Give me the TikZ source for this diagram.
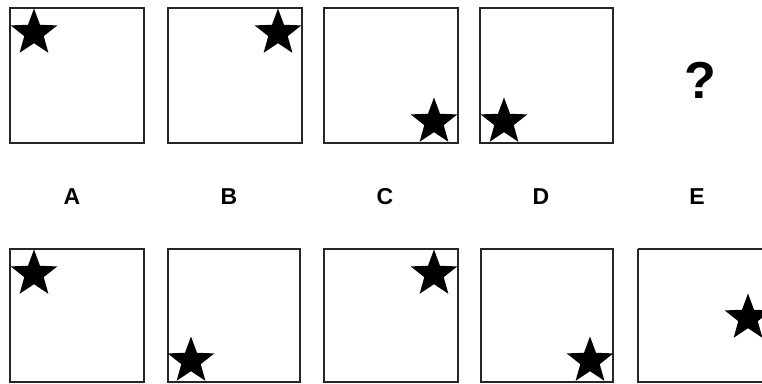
\documentclass[tikz,border=0pt]{standalone}
\usepackage{fontspec}
\setmainfont{Liberation Sans}
\usetikzlibrary{shapes.geometric}
\begin{document}
\begin{tikzpicture}[x=1pt,y=-1pt,
  box/.style={draw=black!85,line width=1.5pt},
  starshape/.style={star,star points=5,star point ratio=2.4,minimum size=49pt,inner sep=0pt,fill=black,draw=none},
  lbl/.style={font=\bfseries\fontsize{23}{23}\selectfont,inner sep=0pt},
  qm/.style={font=\bfseries\fontsize{52}{52}\selectfont,inner sep=0pt}]
\useasboundingbox (0,0) rectangle (762,383);
% top row
\draw[box] (10,8) rectangle (144,143);
\draw[box] (168,8) rectangle (302,143);
\draw[box] (324,8) rectangle (458,143);
\draw[box] (480,8) rectangle (613,143);
\node[starshape] (sa) at (34,33) {};
\node[starshape] (sb) at (278,33) {};
\node[starshape] (sc) at (434,122) {};
\node[starshape] (sd) at (504,122) {};
\node[qm] (q) at (700,80) {?};
% labels
\node[lbl] (la) at (72,197) {A};
\node[lbl] (lb) at (229,197) {B};
\node[lbl] (lc) at (385,197) {C};
\node[lbl] (ld) at (541,197) {D};
\node[lbl] (le) at (697,197) {E};
% bottom row
\draw[box] (10,249) rectangle (144,382);
\draw[box] (168,249) rectangle (300,382);
\draw[box] (324,249) rectangle (458,382);
\draw[box] (481,249) rectangle (613,382);
\draw[box] (638,249) -- (770,249) (638,249) -- (638,382) -- (770,382);
\node[starshape] (ta) at (34,274) {};
\node[starshape] (tb) at (191,361) {};
\node[starshape] (tc) at (434,274) {};
\node[starshape] (td) at (590,361) {};
\node[starshape] (te) at (748,318) {};
\end{tikzpicture}
\end{document}
